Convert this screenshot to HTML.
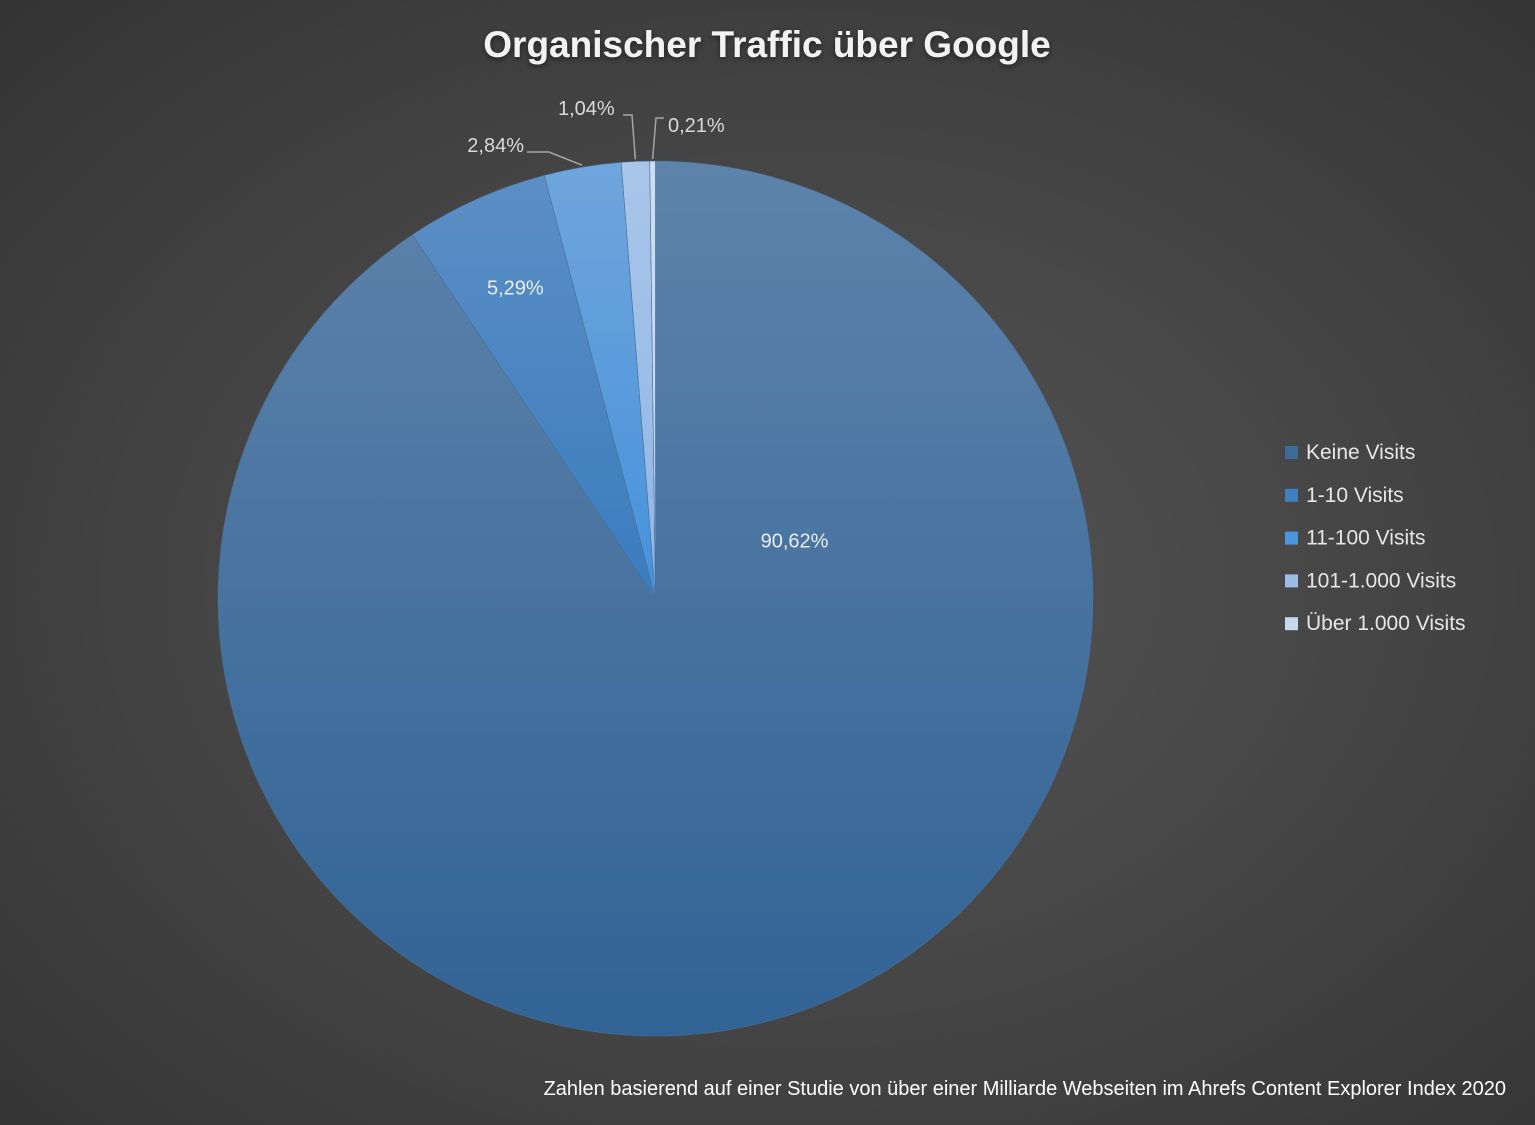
<!DOCTYPE html>
<html><head><meta charset="utf-8"><style>
html,body{margin:0;padding:0;}
body{width:1535px;height:1125px;overflow:hidden;background:radial-gradient(ellipse 75% 75% at 52% 52%,#555 0%,#474747 45%,#333 100%);font-family:"Liberation Sans",sans-serif;}
svg{position:absolute;left:0;top:0;}
</style></head><body>
<svg width="1535" height="1125">
<defs>
<linearGradient id="g0" gradientUnits="userSpaceOnUse" x1="0" y1="161" x2="0" y2="1036"><stop offset="0" stop-color="#5e83ab"/><stop offset="1" stop-color="#316395"/></linearGradient>
<linearGradient id="g1" gradientUnits="userSpaceOnUse" x1="0" y1="161" x2="0" y2="600"><stop offset="0" stop-color="#5d8fc4"/><stop offset="1" stop-color="#3a7cbf"/></linearGradient>
<linearGradient id="g2" gradientUnits="userSpaceOnUse" x1="0" y1="161" x2="0" y2="600"><stop offset="0" stop-color="#70a5dc"/><stop offset="1" stop-color="#4592dc"/></linearGradient>
<linearGradient id="g3" gradientUnits="userSpaceOnUse" x1="0" y1="161" x2="0" y2="600"><stop offset="0" stop-color="#a9c6ea"/><stop offset="1" stop-color="#8fb5e6"/></linearGradient>
<linearGradient id="g4" gradientUnits="userSpaceOnUse" x1="0" y1="161" x2="0" y2="600"><stop offset="0" stop-color="#cfdef2"/><stop offset="1" stop-color="#bcd1ee"/></linearGradient>
<filter id="sh" x="-10%" y="-10%" width="120%" height="120%"><feDropShadow dx="0" dy="2" stdDeviation="3" flood-color="#000" flood-opacity="0.5"/></filter>
</defs>
<text x="767" y="57" text-anchor="middle" font-size="37" font-weight="bold" fill="#f2f2f2" filter="url(#sh)">Organischer Traffic über Google</text>
<g id="slices"></g>
<g id="labels"></g>
<g id="legend"></g>
<text x="1506" y="1095" text-anchor="end" font-size="20" fill="#ffffff">Zahlen basierend auf einer Studie von über einer Milliarde Webseiten im Ahrefs Content Explorer Index 2020</text>
</svg>
<script>
const categories = ["Keine Visits","1-10 Visits","11-100 Visits","101-1.000 Visits","Über 1.000 Visits"];
const values = [90.62, 5.29, 2.84, 1.04, 0.21];
const valueLabels = ["90,62%","5,29%","2,84%","1,04%","0,21%"];

const NS="http://www.w3.org/2000/svg";
const cx=655.5, cy=598.5, r=437.5;
const fills=["url(#g0)","url(#g1)","url(#g2)","url(#g3)","url(#g4)"];
const legendColors=["#3d6a9a","#3f7fc0","#4b95dc","#9dbde6","#c6d8f0"];
function mk(t,a){const e=document.createElementNS(NS,t);for(const k in a)e.setAttribute(k,a[k]);return e;}
function pt(a,rr){return [cx+rr*Math.sin(a), cy-rr*Math.cos(a)];}
const total=values.reduce((s,v)=>s+v,0);
const sg=document.getElementById('slices'), lg=document.getElementById('labels'), leg=document.getElementById('legend');
let a0=0;
// label layout offsets (outside labels for small slices)
const outside=[null,null,{x:524,y:152,anchor:"end",lx:527,ly:152},{x:558,y:115,anchor:"start",lx:632,ly:115},{x:668,y:132,anchor:"start",lx:656,ly:118}];
values.forEach((v,i)=>{
  const a1=a0+v/total*2*Math.PI;
  const [x0,y0]=pt(a0,r),[x1,y1]=pt(a1,r);
  const large=(a1-a0)>Math.PI?1:0;
  const p=mk('path',{d:`M${cx},${cy} L${x0},${y0} A${r},${r} 0 ${large} 1 ${x1},${y1} Z`,fill:fills[i],stroke:"#4a6f95","stroke-width":"0.6"});
  
  
  sg.appendChild(p);
  const am=(a0+a1)/2;
  if(i<2){
    const rr=i===0?0.42*r:0.78*r;
    let [lx,ly]=pt(am,rr);
    if(i===0){lx=cx+139; ly=cy-58;}
    const t=mk('text',{x:lx,y:ly+7,"text-anchor":"middle","font-size":"20",fill:"#e8eef6"});
    t.textContent=valueLabels[i];
    
    
    lg.appendChild(t);
  } else {
    const o=outside[i];
    const [ex,ey]=pt(am,r+2);
    const line=mk('polyline',{points:`${o.lx},${o.ly} ${i===2?o.lx+0:o.lx},${o.ly} ${ex},${ey}`,fill:"none",stroke:"#a6a6a6","stroke-width":"1.5"});
    if(i===2) line.setAttribute('points',`${o.lx},${o.ly} ${o.lx+22},${o.ly} ${ex},${ey}`);
    if(i===3) line.setAttribute('points',`${o.lx-9},${o.ly} ${o.lx},${o.ly} ${ex},${ey}`);
    if(i===4) line.setAttribute('points',`${o.lx+8},${o.ly} ${o.lx},${o.ly} ${ex},${ey}`);
    
    
    lg.appendChild(line);
    const t=mk('text',{x:o.x,y:o.y,"text-anchor":o.anchor,"font-size":"20",fill:"#d9d9d9"});
    if(i===3) t.setAttribute('y',o.y);
    t.textContent=valueLabels[i];
    
    
    lg.appendChild(t);
  }
  a0=a1;
});
categories.forEach((c,i)=>{
  const y=452+i*42.8;
  const g=mk('g',{});
  
  
  const sq=mk('rect',{x:1285,y:y-6,width:13,height:13,fill:legendColors[i]});
  
  
  const t=mk('text',{x:1306,y:y+7,"font-size":"21",fill:"#e6e6e6"});
  t.textContent=c;
  
  
  g.appendChild(sq);g.appendChild(t);leg.appendChild(g);
});
</script>
</body></html>
